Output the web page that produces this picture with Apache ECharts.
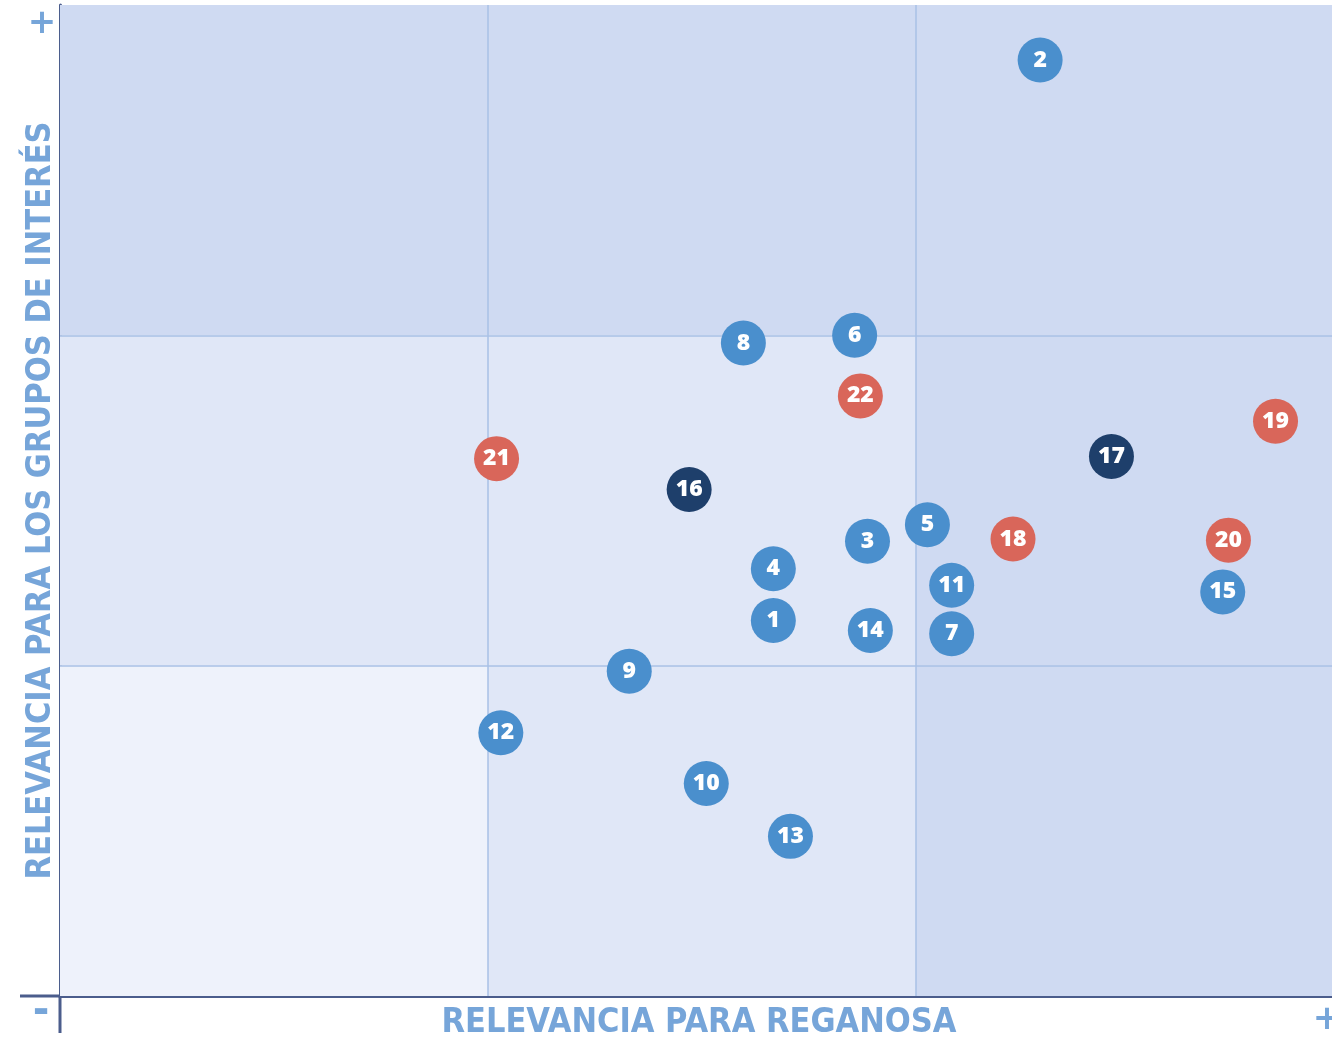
<!DOCTYPE html>
<html>
<head>
<meta charset="utf-8">
<title>Matriz de materialidad</title>
<script src="https://cdn.jsdelivr.net/npm/echarts@6/dist/echarts.min.js"></script>
<style>
  html, body { margin: 0; padding: 0; background: #ffffff; }
  #chart { width: 1332px; height: 1038px; }
</style>
</head>
<body>
<div id="chart"></div>
<script>
// Material topics: number, relevance for Reganosa (x), relevance for stakeholders (y)
const topicIds    = [1, 2, 3, 4, 5, 6, 7, 8, 9, 10, 11, 12, 13, 14, 15, 16, 17, 18, 19, 20, 21, 22];
const reganosaRel = [5.00, 6.87, 5.66, 5.00, 6.08, 5.57, 6.25, 4.79, 3.99, 4.53, 6.25, 3.09, 5.12, 5.68, 8.15, 4.41, 7.37, 6.68, 8.52, 8.19, 3.06, 5.61];
const stakeRel    = [3.41, 8.50, 4.13, 3.88, 4.28, 6.00, 3.29, 5.93, 2.95, 1.93, 3.73, 2.39, 1.45, 3.32, 3.67, 4.60, 4.90, 4.15, 5.22, 4.14, 4.88, 5.45];
const topicGroup  = ['a', 'a', 'a', 'a', 'a', 'a', 'a', 'a', 'a', 'a', 'a', 'a', 'a', 'a', 'a', 'b', 'b', 'c', 'c', 'c', 'c', 'c'];

// Axis scale and the two thresholds that split the matrix into thirds
const axisMin = 0;
const axisMax = 9;
const thresholds = [3, 6];

// Shaded zones: [xFrom, xTo, yFrom, yTo, shade]
const zoneX0 = [0, 0, 6, 0, 3, 6];
const zoneX1 = [9, 6, 9, 3, 6, 9];
const zoneY0 = [6, 3, 3, 0, 0, 0];
const zoneY1 = [9, 6, 6, 3, 3, 3];
const zoneShade = ['high', 'mid', 'high', 'low', 'mid', 'high'];

const shadeColors = { high: '#cfdaf2', mid: '#e0e7f7', low: '#eef2fb' };
const groupColors = { a: '#4a8fcd', b: '#1e3f6b', c: '#d9665a' };
const axisColor = '#4b5d8c';
const titleColor = '#76a5d9';
const titleFont = '"DejaVu Sans Condensed", "Liberation Sans Narrow", sans-serif';

const zones = zoneX0.map((x0, i) => [
  { xAxis: x0, yAxis: zoneY0[i], itemStyle: { color: shadeColors[zoneShade[i]] } },
  { xAxis: zoneX1[i], yAxis: zoneY1[i] }
]);

const thresholdLines = [];
thresholds.forEach(t => {
  thresholdLines.push({ xAxis: t });
  thresholdLines.push({ yAxis: t });
});

function groupData(g) {
  const out = [];
  topicIds.forEach((id, i) => {
    if (topicGroup[i] === g) out.push({ value: [reganosaRel[i], stakeRel[i]], name: String(id) });
  });
  return out;
}

function topicSeries(g) {
  return {
    type: 'scatter',
    name: g,
    z: 5,
    symbol: 'circle',
    symbolSize: 45,
    itemStyle: { color: groupColors[g], opacity: 1 },
    label: {
      show: true,
      position: 'inside',
      formatter: p => p.name,
      color: '#ffffff',
      fontFamily: '"Open Sans", "DejaVu Sans", sans-serif',
      fontWeight: 800,
      fontSize: 23
    },
    emphasis: { disabled: true },
    data: groupData(g)
  };
}

const chart = echarts.init(document.getElementById('chart'));
chart.setOption({
  animation: false,
  // the right-hand end of the matrix runs slightly past the canvas edge
  grid: { left: 60, right: -12, top: 5, bottom: 42, containLabel: false, outerBoundsMode: 'none' },
  xAxis: {
    type: 'value', min: axisMin, max: axisMax, interval: 3,
    name: 'RELEVANCIA PARA REGANOSA',
    nameLocation: 'middle',
    nameGap: 10,
    nameTextStyle: { color: titleColor, fontFamily: titleFont, fontWeight: 'bold', fontSize: 34, verticalAlign: 'top', padding: [0, 6, 0, 0] },
    axisLine: { show: true, lineStyle: { color: axisColor, width: 3 } },
    axisTick: { show: false },
    axisLabel: { show: false },
    splitLine: { show: false }
  },
  yAxis: {
    type: 'value', min: axisMin, max: axisMax, interval: 3,
    name: 'RELEVANCIA PARA LOS GRUPOS DE INTERÉS',
    nameLocation: 'middle',
    nameGap: 2,
    nameTextStyle: { color: titleColor, fontFamily: titleFont, fontWeight: 'bold', fontSize: 34 },
    axisLine: { show: true, lineStyle: { color: axisColor, width: 3 } },
    axisTick: { show: false },
    axisLabel: { show: false },
    splitLine: { show: false }
  },
  graphic: [
    { type: 'line', z: 10, shape: { x1: 60, y1: 996, x2: 60, y2: 1033 }, style: { stroke: axisColor, lineWidth: 3 } },
    { type: 'line', z: 10, shape: { x1: 20, y1: 996, x2: 60, y2: 996 }, style: { stroke: axisColor, lineWidth: 3 } },
    { type: 'text', x: 42, y: 24, style: { text: '+', fill: titleColor, font: 'bold 34px "DejaVu Sans", sans-serif', align: 'center', verticalAlign: 'middle' } },
    { type: 'text', x: 41, y: 1013, style: { text: '-', fill: titleColor, font: 'bold 40px "DejaVu Sans", sans-serif', align: 'center', verticalAlign: 'middle' } },
    { type: 'text', x: 1327, y: 1020, style: { text: '+', fill: titleColor, font: 'bold 34px "DejaVu Sans", sans-serif', align: 'center', verticalAlign: 'middle' } }
  ],
  series: [
    {
      type: 'scatter',
      name: 'zonas',
      z: 1,
      data: [],
      silent: true,
      markArea: { silent: true, data: zones },
      markLine: {
        silent: true,
        symbol: 'none',
        label: { show: false },
        lineStyle: { color: '#a9c0e6', width: 1.5, type: 'solid' },
        data: thresholdLines
      }
    },
    topicSeries('a'),
    topicSeries('b'),
    topicSeries('c')
  ]
});
</script>
</body>
</html>
